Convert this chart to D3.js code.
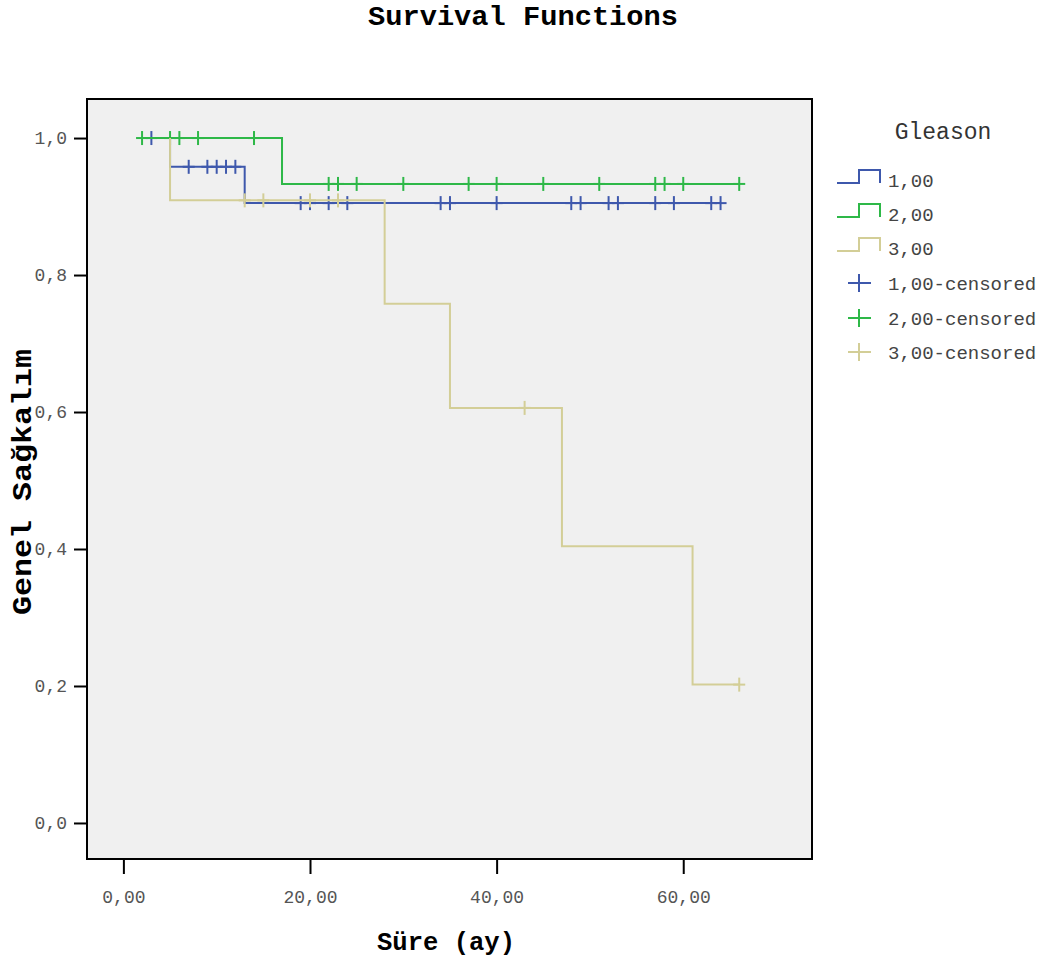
<!DOCTYPE html>
<html>
<head>
<meta charset="utf-8">
<script src="https://cdn.jsdelivr.net/npm/d3@7"></script>
<style>
  html, body { margin: 0; padding: 0; background: #ffffff; }
  svg { display: block; }
  text { font-family: "Liberation Mono", "DejaVu Sans Mono", monospace; }
</style>
</head>
<body>
<svg id="chart" width="1048" height="963"></svg>
<script>
// Kaplan-Meier survival by Gleason group
const groups = ["1,00", "2,00", "3,00"];
const groupColors = ["#3e58ac", "#2eb848", "#d3ce97"];

// step curves: event times and survival after each step, plus last follow-up time
const stepTimes1 = [3, 5, 13];
const stepSurv1 = [1.0, 0.958, 0.905];
const lastTime1 = 64;
const censored1 = [3, 7, 9, 10, 11, 12, 19, 20, 22, 24, 34, 35, 40, 48, 49, 52, 53, 57, 59, 63, 64];

const stepTimes2 = [2, 17];
const stepSurv2 = [1.0, 0.933];
const lastTime2 = 66;
const censored2 = [2, 5, 6, 8, 14, 22, 23, 25, 30, 37, 40, 45, 51, 57, 58, 60, 66];

const stepTimes3 = [5, 5, 28, 35, 47, 61];
const stepSurv3 = [1.0, 0.909, 0.758, 0.606, 0.404, 0.202];
const lastTime3 = 66;
const censored3 = [13, 15, 20, 23, 43, 66];

const xTicks = [0, 20, 40, 60];
const yTicks = [0, 0.2, 0.4, 0.6, 0.8, 1.0];

const series = [
  { name: groups[0], color: groupColors[0], t: stepTimes1, s: stepSurv1, end: lastTime1, cens: censored1 },
  { name: groups[1], color: groupColors[1], t: stepTimes2, s: stepSurv2, end: lastTime2, cens: censored2 },
  { name: groups[2], color: groupColors[2], t: stepTimes3, s: stepSurv3, end: lastTime3, cens: censored3 }
];

const svg = d3.select("#chart");
const box = { left: 87, right: 812, top: 99, bottom: 859 };

const x = d3.scaleLinear().domain([-3.9, 73.8]).range([box.left, box.right]);
const y = d3.scaleLinear().domain([-0.0526, 1.057]).range([box.bottom, box.top]);

// title
svg.append("text")
  .attr("x", 523).attr("y", 25)
  .attr("text-anchor", "middle")
  .attr("font-size", 28).attr("font-weight", "bold").attr("fill", "#000")
  .attr("textLength", 310).attr("lengthAdjust", "spacingAndGlyphs")
  .text("Survival Functions");

// plot background
svg.append("rect")
  .attr("x", box.left).attr("y", box.top)
  .attr("width", box.right - box.left).attr("height", box.bottom - box.top)
  .attr("fill", "#f0f0f0");

// survival value at time t for a series
function survAt(d, t) {
  let v = d.s[0];
  for (let i = 0; i < d.t.length; i++) if (d.t[i] <= t) v = d.s[i];
  return v;
}

// build step path points
function stepPoints(d) {
  const pts = [[d.t[0], d.s[0]]];
  for (let i = 1; i < d.t.length; i++) {
    pts.push([d.t[i], d.s[i - 1]]);
    pts.push([d.t[i], d.s[i]]);
  }
  pts.push([d.end, d.s[d.s.length - 1]]);
  return pts;
}

const line = d3.line().x(p => x(p[0])).y(p => y(p[1]));
const plot = svg.append("g");

series.forEach(d => {
  const g = plot.append("g");
  g.append("path")
    .attr("d", line(stepPoints(d)))
    .attr("fill", "none")
    .attr("stroke", d.color)
    .attr("stroke-width", 2);
  const marks = g.selectAll("g.cens").data(d.cens).join("g")
    .attr("transform", t => `translate(${x(t)},${y(survAt(d, t))})`);
  marks.append("line").attr("x1", 0).attr("x2", 0).attr("y1", -7).attr("y2", 7)
    .attr("stroke", d.color).attr("stroke-width", 2);
  marks.append("line").attr("x1", -6).attr("x2", 6).attr("y1", 0).attr("y2", 0)
    .attr("stroke", d.color).attr("stroke-width", 2);
});

// frame
svg.append("rect")
  .attr("x", box.left).attr("y", box.top)
  .attr("width", box.right - box.left).attr("height", box.bottom - box.top)
  .attr("fill", "none").attr("stroke", "#000").attr("stroke-width", 2);

// axes
const fmtY = v => d3.format(".1f")(v).replace(".", ",");
const fmtX = v => d3.format(".2f")(v).replace(".", ",");

const yAxis = svg.append("g")
  .attr("transform", `translate(${box.left},0)`)
  .call(d3.axisLeft(y).tickValues(yTicks).tickFormat(fmtY).tickSize(13).tickPadding(7));
const xAxis = svg.append("g")
  .attr("transform", `translate(0,${box.bottom})`)
  .call(d3.axisBottom(x).tickValues(xTicks).tickFormat(fmtX).tickSize(15).tickPadding(16));

[yAxis, xAxis].forEach(a => {
  a.select(".domain").remove();
  a.selectAll(".tick line").attr("stroke", "#000").attr("stroke-width", 2);
  a.selectAll(".tick text")
    .attr("font-family", "'Liberation Mono', monospace")
    .attr("font-size", 18).attr("fill", "#555");
});

// axis titles
svg.append("text")
  .attr("x", 446).attr("y", 950)
  .attr("text-anchor", "middle")
  .attr("font-size", 25).attr("font-weight", "bold").attr("fill", "#000")
  .attr("textLength", 138).attr("lengthAdjust", "spacingAndGlyphs")
  .text("Süre (ay)");
svg.append("text")
  .attr("transform", "translate(31,482) rotate(-90)")
  .attr("text-anchor", "middle")
  .attr("font-size", 27).attr("font-weight", "bold").attr("fill", "#000")
  .attr("textLength", 266).attr("lengthAdjust", "spacingAndGlyphs")
  .text("Genel Sağkalım");

// legend
const legend = svg.append("g");
legend.append("text")
  .attr("x", 943).attr("y", 139)
  .attr("text-anchor", "middle")
  .attr("font-size", 23).attr("fill", "#333")
  .text("Gleason");

const rowY = [180, 214, 248, 283, 318, 352];
series.forEach((d, i) => {
  const cy = rowY[i];
  legend.append("path")
    .attr("d", `M837,${cy + 3} H859 V${cy - 10} H880 V${cy + 3}`)
    .attr("fill", "none").attr("stroke", d.color).attr("stroke-width", 2);
  legend.append("text")
    .attr("x", 888).attr("y", cy + 7)
    .attr("font-size", 19).attr("fill", "#444")
    .text(d.name);
});
series.forEach((d, i) => {
  const cy = rowY[i + 3];
  legend.append("line").attr("x1", 859).attr("x2", 859).attr("y1", cy - 9).attr("y2", cy + 9)
    .attr("stroke", d.color).attr("stroke-width", 2);
  legend.append("line").attr("x1", 848).attr("x2", 871).attr("y1", cy).attr("y2", cy)
    .attr("stroke", d.color).attr("stroke-width", 2);
  legend.append("text")
    .attr("x", 888).attr("y", cy + 7)
    .attr("font-size", 19).attr("fill", "#444")
    .text(d.name + "-censored");
});
</script>
</body>
</html>
